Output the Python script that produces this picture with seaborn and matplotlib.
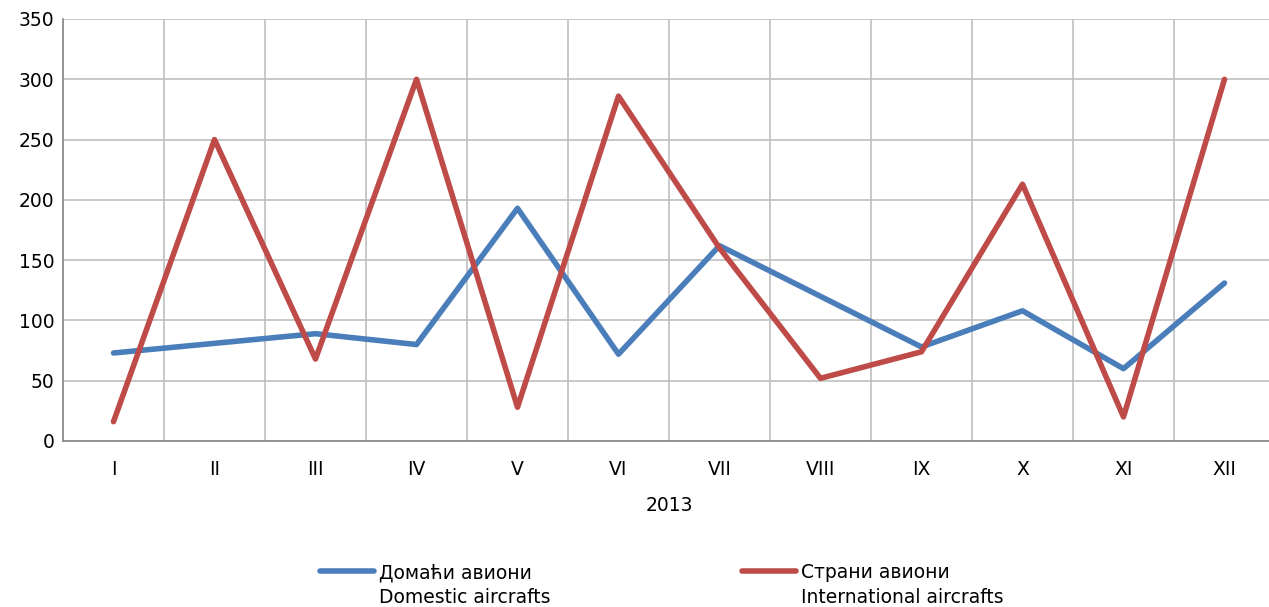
import numpy as np
import pandas as pd
import matplotlib
matplotlib.use("Agg")
import matplotlib.pyplot as plt
import seaborn as sns
from matplotlib.lines import Line2D

months = ["I", "II", "III", "IV", "V", "VI", "VII", "VIII", "IX", "X", "XI", "XII"]
domestic = [73, 81, 89, 80, 193, 72, 162, 120, 78, 108, 60, 131]
international = [16, 250, 68, 300, 28, 286, 160, 52, 74, 213, 20, 300]
series_names = ["Домаћи авиони\nDomestic aircrafts", "Страни авиони\nInternational aircrafts"]
colors = ["#4A7EBB", "#BE4B48"]
year_label = "2013"
y_ticks = [0, 50, 100, 150, 200, 250, 300, 350]

df = pd.DataFrame({
    "month": months * 2,
    "value": domestic + international,
    "series": [series_names[0]] * len(months) + [series_names[1]] * len(months),
})

sns.set_theme(style="white")
plt.rcParams["font.family"] = ["DejaVu Sans"]
plt.rcParams["text.color"] = "black"

fig = plt.figure(figsize=(12.69, 6.07), dpi=100)
ax = fig.add_axes([63 / 1269, 1 - 441 / 607, 1212 / 1269, 422 / 607])

sns.lineplot(data=df, x="month", y="value", hue="series", palette=colors,
             linewidth=4, ax=ax, legend=False, sort=False)

ax.set_xlim(-0.5, len(months) - 0.5)
ax.set_ylim(0, 350)
ax.set_yticks(y_ticks)
ax.set_xticks(range(len(months)))
ax.set_xticklabels(months)
ax.set_xticks(np.arange(-0.5, len(months), 1.0), minor=True)

ax.grid(False)
ax.yaxis.grid(True, color="#BFBFBF", linewidth=1.2)
ax.xaxis.grid(True, which="minor", color="#BFBFBF", linewidth=1.2)
ax.set_axisbelow(True)

for s in ["top", "right"]:
    ax.spines[s].set_visible(False)
for s in ["left", "bottom"]:
    ax.spines[s].set_color("#868686")
    ax.spines[s].set_linewidth(1.2)

ax.tick_params(axis="x", which="major", length=0, pad=14, labelsize=13.5, colors="black")
ax.tick_params(axis="x", which="minor", length=5, color="#868686")
ax.tick_params(axis="y", length=0, pad=6, labelsize=13.5, colors="black")
ax.set_xlabel(year_label, fontsize=13.5, labelpad=12, color="black")
ax.set_ylabel("")

blank = Line2D([], [], alpha=0)
for i, x0 in enumerate([320, 742]):
    line1, line2 = series_names[i].split("\n")
    h = Line2D([], [], color=colors[i], linewidth=4, solid_capstyle="round")
    leg = fig.legend([h, blank], [line1, line2], loc="upper left",
                     bbox_to_anchor=(x0 / 1269, 1 - 563 / 607), frameon=False,
                     fontsize=13.5, handlelength=2.9, handletextpad=0.25,
                     labelspacing=0.3, borderaxespad=0, borderpad=0)
    for t in leg.get_texts():
        t.set_color("black")

fig.savefig("out.png", dpi=100)
